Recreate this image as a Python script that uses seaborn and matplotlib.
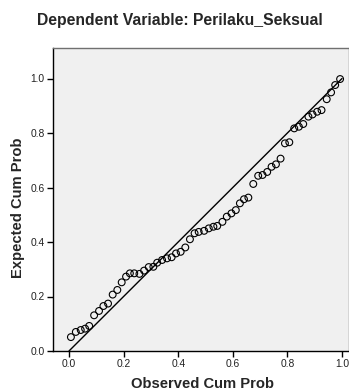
import pandas as pd
import matplotlib.pyplot as plt
import seaborn as sns

# ===============================
# Data
# ===============================
observed_cum_prob = [
    0.007, 0.025, 0.043, 0.059, 0.074, 0.092, 0.110, 0.126, 0.143, 0.160,
    0.177, 0.193, 0.209, 0.223, 0.239, 0.258, 0.275, 0.292, 0.309, 0.323,
    0.341, 0.359, 0.376, 0.392, 0.409, 0.426, 0.443, 0.460, 0.475, 0.495,
    0.512, 0.529, 0.543, 0.562, 0.578, 0.595, 0.611, 0.626, 0.641, 0.657,
    0.675, 0.693, 0.709, 0.726, 0.742, 0.758, 0.775, 0.791, 0.807, 0.825,
    0.842, 0.858, 0.877, 0.892, 0.909, 0.925, 0.944, 0.960, 0.975, 0.993,
]
expected_cum_prob = [
    0.051, 0.070, 0.077, 0.082, 0.092, 0.131, 0.147, 0.165, 0.174, 0.207,
    0.224, 0.252, 0.273, 0.285, 0.285, 0.283, 0.295, 0.308, 0.309, 0.324,
    0.334, 0.340, 0.344, 0.358, 0.364, 0.380, 0.410, 0.432, 0.437, 0.441,
    0.450, 0.456, 0.459, 0.474, 0.493, 0.505, 0.517, 0.542, 0.557, 0.563,
    0.613, 0.643, 0.646, 0.657, 0.676, 0.685, 0.706, 0.762, 0.766, 0.817,
    0.823, 0.833, 0.860, 0.868, 0.878, 0.884, 0.924, 0.949, 0.976, 0.998,
]
ref_line = [0.0, 1.0]
tick_vals = [0.0, 0.2, 0.4, 0.6, 0.8, 1.0]
tick_labels = ["0.0", "0.2", "0.4", "0.6", "0.8", "1.0"]

df = pd.DataFrame({"obs": observed_cum_prob, "exp": expected_cum_prob})
df_line = pd.DataFrame({"x": ref_line, "y": ref_line})

# ===============================
# Style
# ===============================
sns.set_style("white")
plt.rcParams['font.family'] = ['Liberation Sans', 'DejaVu Sans']

fig = plt.figure(figsize=(3.49, 3.91), dpi=100)
W, H = 349, 391
ax = fig.add_axes([53 / W, (H - 351) / H, (349 - 53) / W, (351 - 48) / H])
ax.set_facecolor("#f0f0f0")

sns.lineplot(data=df_line, x="x", y="y", ax=ax, color="black", linewidth=1.0)
sns.scatterplot(data=df, x="obs", y="exp", ax=ax, marker="o", s=24,
                facecolor="none", edgecolor="black", linewidth=0.8, zorder=3)

ax.set_xlim(-16 / 273, (349 - 69) / 273)
ax.set_ylim(0, 303 / 272.5)
ax.set_xticks(tick_vals)
ax.set_xticklabels(tick_labels)
ax.set_yticks(tick_vals)
ax.set_yticklabels(tick_labels)
ax.tick_params(axis="both", direction="out", length=4, width=1, pad=2,
               labelsize=7.4, color="black", labelcolor="#222222",
               bottom=True, left=True)
ax.set_xlabel("")
ax.set_ylabel("")

for side in ["left", "bottom"]:
    ax.spines[side].set_color("black")
    ax.spines[side].set_linewidth(1.0)
for side in ["top", "right"]:
    ax.spines[side].set_color("#707070")
    ax.spines[side].set_linewidth(1.0)

fig.text(180 / W, 1 - 20 / H, "Dependent Variable: Perilaku_Seksual",
         ha="center", va="center", fontsize=11.3, fontweight="bold")
fig.text(203 / W, 1 - 384 / H, "Observed Cum Prob",
         ha="center", va="center", fontsize=10.6, fontweight="bold")
fig.text(18 / W, 1 - 208 / H, "Expected Cum Prob", rotation=90,
         ha="center", va="center", fontsize=10.6, fontweight="bold")

fig.savefig("out.png", dpi=100)
